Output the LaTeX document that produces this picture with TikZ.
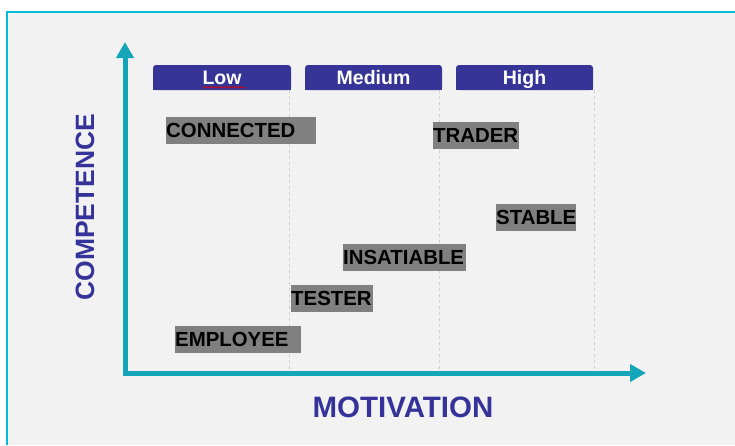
\documentclass[tikz,border=0pt]{standalone}
\usepackage{fontspec}
\usetikzlibrary{arrows.meta,decorations.pathmorphing}
\newfontfamily\lblfont{Liberation Sans}
\newfontfamily\hdrfont{Liberation Sans}
\newfontfamily\ttlfont{Liberation Sans}
\definecolor{bgc}{HTML}{F2F2F2}
\definecolor{bordc}{HTML}{00BED8}
\definecolor{hdrc}{HTML}{363497}
\definecolor{ttlc}{HTML}{35339A}
\definecolor{axisc}{HTML}{14A5B8}
\definecolor{gridc}{HTML}{CFCFCF}
\definecolor{lblc}{HTML}{808080}
\tikzset{
  hdr/.style={fill=hdrc, rounded corners=3pt, text=white, inner sep=0pt,
    minimum width=138pt, minimum height=25pt, text height=14pt, text depth=0pt,
    font=\hdrfont\bfseries\fontsize{19.5}{21}\selectfont},
  lbl/.style={fill=lblc, text=black, inner xsep=0pt, inner ysep=0pt, anchor=north west,
    align=left, minimum height=26.5pt, font=\lblfont\bfseries\fontsize{20.4}{24}\selectfont},
  ttl/.style={text=ttlc, inner sep=0pt, font=\ttlfont\bfseries},
  gridline/.style={gridc, line width=0.8pt, dash pattern=on 3pt off 3pt},
  axis/.style={axisc, line width=5pt, line join=miter,
    {Triangle[width=17pt,length=16pt]}-{Triangle[width=17pt,length=16pt]}}
}
\begin{document}
\begin{tikzpicture}[x=1pt,y=-1pt]
\useasboundingbox (0,0) rectangle (735,445);
\fill[white] (0,0) rectangle (735,445);
\fill[bgc] (7,12) rectangle (735,445);
\draw[bordc, line width=1.2pt] (7,445) -- (7,12) -- (735,12);
% dashed column separators
\draw[gridline] (289,90) -- (289,372);
\draw[gridline] (439,90) -- (439,372);
\draw[gridline] (594,90) -- (594,372);
% header boxes (square bottoms)
\fill[hdrc] (153,78) rectangle (291,90);
\fill[hdrc] (305,78) rectangle (442,90);
\fill[hdrc] (456,78) rectangle (593,90);
\node[hdr] (low) at (222,77.5) {Low};
\node[hdr, minimum width=137pt] (medium) at (373.5,77.5) {Medium};
\node[hdr, minimum width=137pt] (high) at (524.5,77.5) {High};
\draw[red!85!black, line width=0.6pt, decorate, decoration={snake, segment length=2.6pt, amplitude=0.7pt}] (203,87.3) -- (245,87.3);
% labels
\node[lbl, text width=150pt] (connected) at (166,117) {CONNECTED};
\node[lbl, text width=86pt] (trader) at (433,122) {TRADER};
\node[lbl, text width=80pt] (stable) at (496,204) {STABLE};
\node[lbl, text width=123pt] (insatiable) at (343,244) {INSATIABLE};
\node[lbl, text width=82pt] (tester) at (291,285) {TESTER};
\node[lbl, text width=126pt] (employee) at (175,326) {EMPLOYEE};
% axes
\coordinate (ytip) at (125,42);
\coordinate (origin) at (125,373);
\coordinate (xtip) at (646,373);
\draw[axis] (ytip) -- (origin) -- (xtip);
% titles
\node[ttl, rotate=90, font=\ttlfont\bfseries\fontsize{26.5}{28}\selectfont] (competence) at (85,207) {COMPETENCE};
\node[ttl, font=\ttlfont\bfseries\fontsize{29.5}{31}\selectfont] (motivation) at (403,407) {MOTIVATION};
\end{tikzpicture}
\end{document}
